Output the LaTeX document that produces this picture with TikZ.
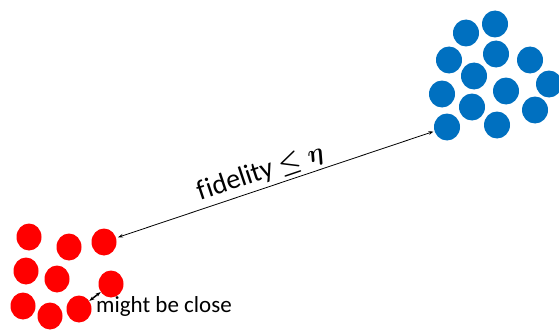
\documentclass[tikz,border=0pt]{standalone}
\usepackage{fontspec}
\setmainfont{Carlito}[Ligatures=NoCommon]
\usetikzlibrary{arrows.meta,shapes.geometric}
\definecolor{dotred}{RGB}{255,0,0}
\definecolor{dotblue}{RGB}{0,112,192}
\begin{document}
\begin{tikzpicture}[x=1pt,y=-1pt,
  reddot/.style={ellipse,fill=dotred,minimum width=25pt,minimum height=27pt,inner sep=0pt},
  bluedot/.style={ellipse,fill=dotblue,minimum width=26pt,minimum height=27pt,inner sep=0pt},
  link/.style={{Stealth[length=5pt,width=3.5pt]}-{Stealth[length=5pt,width=3.5pt]},line width=0.8pt}]
\useasboundingbox (0,0) rectangle (559,329);
% red cluster
\node[reddot] (r1) at (29,237) {};
\node[reddot] (r2) at (69,247) {};
\node[reddot] (r3) at (104,242) {};
\node[reddot] (r4) at (26,271) {};
\node[reddot] (r5) at (57,279) {};
\node[reddot] (r6) at (111,284) {};
\node[reddot] (r7) at (23,306) {};
\node[reddot] (r8) at (50,316) {};
\node[reddot] (r9) at (79,309) {};
% blue cluster
\node[bluedot] (b1) at (466,33) {};
\node[bluedot] (b2) at (495,24) {};
\node[bluedot] (b3) at (449,60) {};
\node[bluedot] (b4) at (496,54) {};
\node[bluedot] (b5) at (530,60) {};
\node[bluedot] (b6) at (474,76) {};
\node[bluedot] (b7) at (549,84) {};
\node[bluedot] (b8) at (442,94) {};
\node[bluedot] (b9) at (506,91) {};
\node[bluedot] (b10) at (472,107) {};
\node[bluedot] (b11) at (535,110) {};
\node[bluedot] (b12) at (447,127) {};
\node[bluedot] (b13) at (497,125) {};
% connectors
\draw[link,shorten <=2pt,shorten >=1pt] (r3) -- (b12)
  node[pos=0.47,sloped,above=0pt,font=\fontsize{28}{32}\selectfont] (lbl)
  {fidelity {\fontsize{34}{36}\selectfont\boldmath$\leq \eta$}};
\draw[link,line width=1.5pt] (r9) -- (r6);
\node[anchor=base west,font=\fontsize{23}{26}\selectfont,inner sep=0pt] (close) at (96,312) {might be close};
\end{tikzpicture}
\end{document}
